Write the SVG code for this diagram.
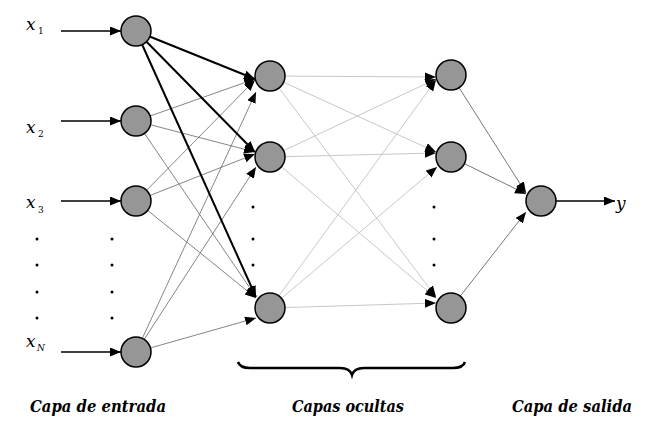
<svg xmlns="http://www.w3.org/2000/svg" width="660" height="428" viewBox="0 0 660 428">
<defs>
<marker id="ah" markerUnits="userSpaceOnUse" markerWidth="12" markerHeight="10" refX="11" refY="4.5" orient="auto">
<path d="M0,0 L11,4.5 L0,9 z" fill="#000"/>
</marker>
<style>
.node{fill:#969696;stroke:#000;stroke-width:1.5}
.in{stroke:#000;stroke-width:1.4;fill:none;marker-end:url(#ah)}
.thick{stroke:#000;stroke-width:2;fill:none;marker-end:url(#ah)}
.thin{stroke:#666;stroke-width:0.8;fill:none;marker-end:url(#ah)}
.light{stroke:#c8c8c8;stroke-width:1;fill:none;marker-end:url(#ah)}
.out{stroke:#555;stroke-width:0.8;fill:none;marker-end:url(#ah)}
.dot{fill:#000}
</style>
</defs>
<rect width="660" height="428" fill="#fff"/>
<g id="connectors">
<line class="in" x1="61" y1="31" x2="121" y2="31"/>
<line class="in" x1="61" y1="121" x2="121" y2="121"/>
<line class="in" x1="61" y1="201" x2="121" y2="201"/>
<line class="in" x1="61" y1="352" x2="121" y2="352"/>
<line class="thin" x1="136" y1="121" x2="255" y2="79"/>
<line class="thin" x1="136" y1="121" x2="255" y2="152"/>
<line class="thin" x1="136" y1="121" x2="256" y2="297"/>
<line class="thin" x1="136" y1="201" x2="255" y2="80"/>
<line class="thin" x1="136" y1="201" x2="255" y2="154"/>
<line class="thin" x1="136" y1="201" x2="256" y2="298"/>
<line class="thin" x1="136" y1="352" x2="256" y2="92"/>
<line class="thin" x1="136" y1="352" x2="256" y2="167"/>
<line class="thin" x1="136" y1="352" x2="256" y2="318"/>
<line class="thick" x1="136" y1="31" x2="255" y2="79"/>
<line class="thick" x1="136" y1="31" x2="255" y2="152"/>
<line class="thick" x1="136" y1="31" x2="256" y2="297"/>
<line class="light" x1="270" y1="76" x2="436" y2="77"/>
<line class="light" x1="270" y1="76" x2="436" y2="152"/>
<line class="light" x1="270" y1="76" x2="436" y2="297"/>
<line class="light" x1="270" y1="157" x2="436" y2="79"/>
<line class="light" x1="270" y1="157" x2="436" y2="153"/>
<line class="light" x1="270" y1="157" x2="436" y2="298"/>
<line class="light" x1="270" y1="308" x2="436" y2="80"/>
<line class="light" x1="270" y1="308" x2="437" y2="167"/>
<line class="light" x1="270" y1="308" x2="436" y2="303"/>
<line class="out" x1="451" y1="75" x2="526" y2="193"/>
<line class="out" x1="451" y1="157" x2="526" y2="194"/>
<line class="out" x1="451" y1="308" x2="526" y2="212"/>
<line class="in" x1="541" y1="201" x2="615" y2="201"/>
</g>
<g id="input-layer">
<circle id="in1" class="node" cx="136" cy="31" r="15"/>
<circle id="in2" class="node" cx="136" cy="121" r="15"/>
<circle id="in3" class="node" cx="136" cy="201" r="15"/>
<circle id="inN" class="node" cx="136" cy="352" r="15"/>
</g>
<g id="hidden-layer-1">
<circle id="h1a" class="node" cx="270" cy="76" r="15"/>
<circle id="h1b" class="node" cx="270" cy="157" r="15"/>
<circle id="h1c" class="node" cx="270" cy="308" r="15"/>
</g>
<g id="hidden-layer-2">
<circle id="h2a" class="node" cx="451" cy="75" r="15"/>
<circle id="h2b" class="node" cx="451" cy="157" r="15"/>
<circle id="h2c" class="node" cx="451" cy="308" r="15"/>
</g>
<g id="output-node">
<circle id="out" class="node" cx="541" cy="201" r="15"/>
</g>
<g id="labels" font-family="DejaVu Serif, serif" fill="#000">
<text x="26" y="30" font-style="italic" font-size="17">x</text><text x="38" y="34" font-size="9">1</text>
<text x="26" y="133" font-style="italic" font-size="17">x</text><text x="38" y="137" font-size="9">2</text>
<text x="26" y="208" font-style="italic" font-size="17">x</text><text x="38" y="213" font-size="9">3</text>
<text x="26" y="347" font-style="italic" font-size="17">x</text><text x="37" y="351" font-style="italic" font-size="9">N</text>
<text x="616" y="209" font-style="italic" font-size="17">y</text>
</g>
<g id="ellipsis">
<circle class="dot" cx="37" cy="239" r="1.5"/><circle class="dot" cx="37" cy="265" r="1.5"/><circle class="dot" cx="37" cy="292" r="1.5"/><circle class="dot" cx="37" cy="318" r="1.5"/>
<circle class="dot" cx="112" cy="239" r="1.5"/><circle class="dot" cx="112" cy="265" r="1.5"/><circle class="dot" cx="112" cy="292" r="1.5"/><circle class="dot" cx="112" cy="318" r="1.5"/>
<circle class="dot" cx="253" cy="207" r="1.5"/><circle class="dot" cx="253" cy="239" r="1.5"/><circle class="dot" cx="253" cy="265" r="1.5"/>
<circle class="dot" cx="434" cy="207" r="1.5"/><circle class="dot" cx="434" cy="239" r="1.5"/><circle class="dot" cx="434" cy="265" r="1.5"/>
</g>
<g id="brace">
<path d="M238,362 Q240,368 250,368 L340,368 Q350,368 352,375 Q354,368 364,368 L453,368 Q463,368 465,362" fill="none" stroke="#000" stroke-width="2.5"/>
</g>
<g id="captions" font-family="DejaVu Serif, serif" font-style="italic" font-weight="bold" font-size="17" fill="#000">
<text x="30" y="412" textLength="136" lengthAdjust="spacingAndGlyphs">Capa de entrada</text>
<text x="292" y="412" textLength="112" lengthAdjust="spacingAndGlyphs">Capas ocultas</text>
<text x="512" y="412" textLength="120" lengthAdjust="spacingAndGlyphs">Capa de salida</text>
</g>
</svg>
